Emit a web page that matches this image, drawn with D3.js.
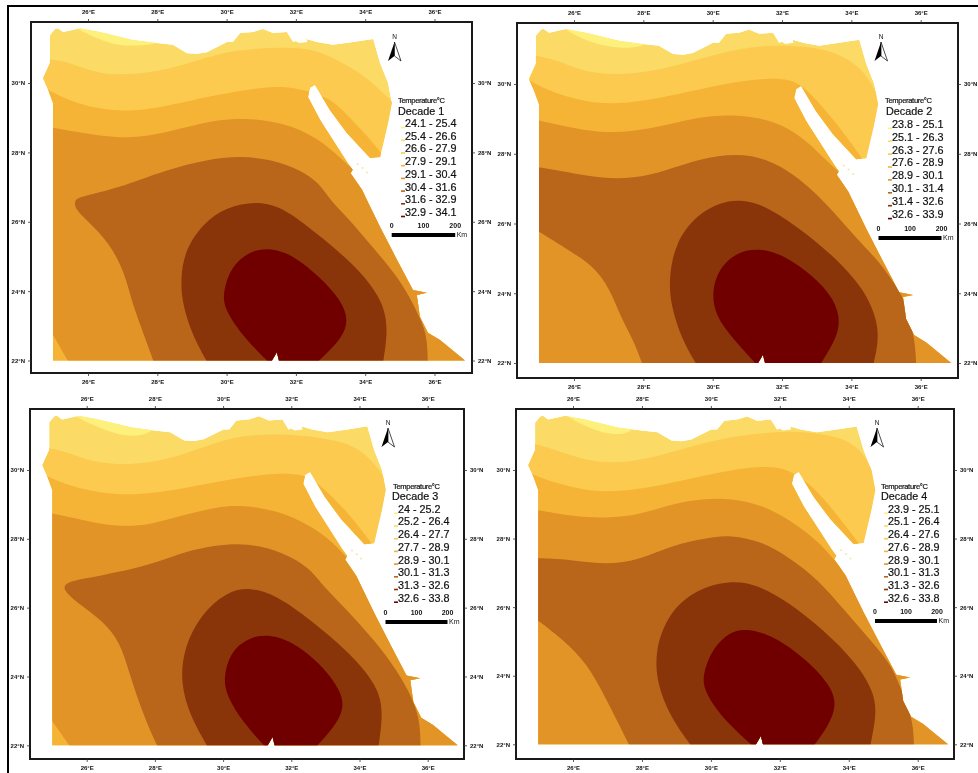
<!DOCTYPE html>
<html>
<head>
<meta charset="utf-8">
<script src="https://cdn.jsdelivr.net/npm/d3@7"></script>
<style>
  html, body { margin: 0; background: #fff; }
  svg { display: block; filter: blur(0.4px); }
  text { font-family: "Liberation Sans", Arial, sans-serif; fill: #111; }
  .tick text { font-size: 6px; font-weight: bold; }
  .legend-text { stroke: #111; stroke-width: 0.2px; }
</style>
</head>
<body>
<div id="chart"></div>
<script>
// Band colours, coolest to hottest
const bandColors = ["#fdf07c", "#fbdb65", "#fbca4e", "#f6b436", "#e39427", "#b9651a", "#8a3509", "#700000"];

// Axis ticks
const lonTicks = [26, 28, 30, 32, 34, 36];
const latTicks = [22, 24, 26, 28, 30];

// Legend ranges per decade
const decade1Ranges = ["24.1 - 25.4", "25.4 - 26.6", "26.6 - 27.9", "27.9 - 29.1", "29.1 - 30.4", "30.4 - 31.6", "31.6 - 32.9", "32.9 - 34.1"];
const decade2Ranges = ["23.8 - 25.1", "25.1 - 26.3", "26.3 - 27.6", "27.6 - 28.9", "28.9 - 30.1", "30.1 - 31.4", "31.4 - 32.6", "32.6 - 33.9"];
const decade3Ranges = ["24 - 25.2", "25.2 - 26.4", "26.4 - 27.7", "27.7 - 28.9", "28.9 - 30.1", "30.1 - 31.3", "31.3 - 32.6", "32.6 - 33.8"];
const decade4Ranges = ["23.9 - 25.1", "25.1 - 26.4", "26.4 - 27.6", "27.6 - 28.9", "28.9 - 30.1", "30.1 - 31.3", "31.3 - 32.6", "32.6 - 33.8"];

// Country outline, [lon, lat]
const outline = [
  [24.90,31.38],[25.05,31.56],[25.13,31.58],[25.28,31.47],[25.77,31.58],[26.35,31.47],[27.30,31.24],[27.99,31.15],
  [28.45,31.10],[28.86,30.86],[29.15,30.84],[29.43,30.89],[30.01,31.18],[30.18,31.18],[30.39,31.44],[30.76,31.47],
  [31.05,31.56],[31.34,31.44],[31.74,31.47],[31.92,31.18],[32.20,31.30],[32.61,31.18],[33.07,31.10],[33.65,31.18],
  [34.23,31.27],[34.43,30.58],[34.66,30.00],[34.77,29.42],[34.66,28.85],[34.43,27.87],[34.14,27.84],[33.47,28.56],
  [32.98,29.22],[32.55,29.94],[32.41,29.86],[32.35,29.60],[32.70,28.93],[33.07,28.36],[33.50,27.69],[33.64,27.5],[33.58,27.4],[33.91,26.92],
  [34.05,26.63],[34.43,25.85],[34.92,24.90],[35.38,24.03],[35.78,23.95],[35.49,23.89],[35.58,23.26],[35.81,22.80],
  [36.16,22.59],[36.45,22.35],[36.88,22.00],[31.51,22.00],[31.45,22.24],[31.31,22.00],[24.99,22.00],[24.99,28.70],
  [24.99,29.42],[24.85,29.80],[24.70,30.14],[24.90,30.58]
];
const deltaLake = [[31.85,31.45],[32.0,31.32],[32.3,31.3],[32.33,31.18],[32.1,31.15],[31.9,31.25]];
const redSeaIslets = [[33.78,27.66],[33.92,27.55],[34.05,27.42]];

// Contour lines per decade, [lon, lat]. First is the palest band, closed to the north,
// the others hold everything to the south of them
const decade1Lines = [
  [[25.55,31.7],[25.62,31.59],[26.34,31.25],[26.91,31.06],[27.59,31.09],[28.07,31.13],[28.3,31.4],[28.3,31.7]],
  [[24.5,30.75],[24.89,30.67],[25.38,30.63],[26.34,30.24],[27.30,30.24],[28.26,30.38],[29.22,30.67],[30.18,30.96],[31.72,31.04],[32.59,30.96],[33.26,30.63],[34.03,30.19],[34.65,29.57],[35.2,29.1]],
  [[24.5,29.95],[24.85,29.81],[25.38,29.52],[26.34,29.23],[27.30,29.18],[28.26,29.33],[29.70,29.66],[31.14,29.90],[31.91,29.88],[32.54,29.71],[33.07,29.52],[33.84,28.70],[34.46,28.03],[34.8,27.4]],
  [[25.5,21.85],[24.9,22.9],[24.7,23.2],[24.6,28.8],[24.99,28.70],[25.86,28.56],[26.82,28.41],[27.78,28.46],[28.74,28.70],[29.70,28.94],[30.66,28.99],[31.63,28.85],[32.59,28.46],[33.45,27.69],[33.9,27.3],[34.5,26.9]],
  [[27.92,21.9],[27.49,23.08],[27.25,23.75],[27.06,24.52],[26.63,25.38],[25.95,26.06],[25.62,26.38],[25.6,26.64],[25.85,26.74],[26.82,26.95],[28.26,27.5],[29.41,27.79],[30.38,27.9],[31.34,27.79],[32.11,27.5],[32.68,27.12],[32.97,26.63],[33.55,26.06],[34.03,25.48],[34.70,24.71],[35.18,24.04],[35.66,23.08],[35.79,22.6],[35.81,21.9]],
  [[29.46,21.92],[29.03,22.69],[28.74,23.56],[28.66,24.33],[28.8,25.19],[29.32,25.96],[29.99,26.42],[30.86,26.6],[31.63,26.42],[32.59,25.67],[33.64,24.81],[34.45,23.85],[34.68,22.98],[34.51,21.92]],
  [[31.24,21.92],[30.47,22.69],[29.95,23.46],[29.88,23.94],[30.13,24.71],[30.66,25.16],[31.29,25.25],[31.95,25.02],[32.68,24.42],[33.3,23.75],[33.52,23.17],[33.35,22.69],[32.9,22.21],[32.59,21.92]]
];
const decade2Lines = [
  [[25.6,31.7],[25.74,31.56],[26.37,31.22],[27.13,31.03],[27.9,31.03],[28.3,31.3],[28.3,31.7]],
  [[24.5,30.9],[25.02,30.79],[25.5,30.69],[26.37,30.31],[27.42,30.26],[28.48,30.40],[29.63,30.72],[30.6,30.98],[31.6,31.12],[32.57,31.08],[33.5,30.95],[34.35,30.45],[34.7,29.75],[35.1,29.2]],
  [[24.5,30.25],[24.92,29.97],[25.6,29.68],[26.56,29.44],[27.52,29.44],[28.67,29.63],[30.12,29.97],[31.37,30.16],[32.13,30.16],[32.57,29.97],[33.0,29.54],[33.58,28.87],[34.3,27.9],[34.45,27.6],[34.8,27.2]],
  [[24.6,21.8],[24.6,29.0],[25.02,28.96],[25.79,28.77],[26.75,28.6],[27.71,28.63],[28.67,28.82],[29.63,29.06],[30.6,29.13],[31.56,29.0],[32.33,28.67],[33.0,28.1],[33.58,27.5],[34.4,26.9]],
  [[28.0,21.9],[27.71,22.67],[27.33,23.35],[27.04,24.12],[26.56,24.79],[25.79,25.27],[25.02,25.75],[24.6,26.0],[24.6,27.65],[25.02,27.62],[25.79,27.47],[26.75,27.3],[27.71,27.28],[28.67,27.52],[29.63,27.86],[30.69,28.02],[31.56,27.86],[32.33,27.42],[33.0,26.85],[33.67,26.13],[34.25,25.46],[34.83,24.88],[35.21,24.31],[35.55,23.83],[35.84,22.67],[35.87,21.9]],
  [[29.54,21.95],[29.11,22.67],[28.8,23.63],[28.73,24.4],[28.92,25.46],[29.54,26.25],[30.21,26.6],[30.79,26.7],[31.56,26.5],[32.52,25.85],[33.48,25.08],[34.38,24.12],[34.78,23.15],[34.76,22.48],[34.63,21.95]],
  [[31.27,21.95],[30.6,22.67],[30.08,23.35],[29.97,24.02],[30.16,24.69],[30.69,25.18],[31.32,25.3],[32.06,25.1],[32.9,24.5],[33.52,23.83],[33.7,23.15],[33.5,22.58],[33.1,21.95]]
];
const decade3Lines = [
  [[25.5,31.7],[25.6,31.58],[26.39,31.21],[27.08,30.97],[27.76,31.0],[28.1,31.3],[28.1,31.7]],
  [[24.5,30.7],[24.92,30.63],[25.41,30.53],[26.29,30.19],[27.37,30.15],[28.35,30.29],[29.32,30.63],[30.3,30.97],[31.28,31.04],[32.26,31.02],[33.33,30.87],[34.11,30.58],[34.7,29.85],[34.85,29.56],[35.2,29.1]],
  [[24.5,30.0],[24.78,29.85],[25.41,29.56],[26.39,29.32],[27.37,29.27],[28.35,29.37],[29.81,29.66],[31.28,29.9],[32.26,29.9],[32.7,29.71],[33.62,28.83],[34.4,27.8],[34.8,27.3]],
  [[25.56,21.9],[24.99,22.7],[24.7,23.1],[24.6,28.8],[25.02,28.74],[25.9,28.54],[26.88,28.35],[27.86,28.4],[28.83,28.69],[29.81,28.93],[30.59,28.98],[31.57,28.83],[32.55,28.4],[33.23,27.91],[33.82,27.23],[34.5,26.7]],
  [[28.1,21.92],[27.76,22.65],[27.47,23.43],[27.22,24.2],[26.98,24.98],[26.49,25.61],[25.71,26.15],[25.3,26.52],[25.36,26.76],[26.39,26.92],[27.86,27.23],[28.83,27.62],[29.81,27.82],[30.69,27.88],[31.77,27.62],[32.55,27.14],[32.84,26.73],[33.62,25.95],[34.41,25.08],[35.09,24.2],[35.58,23.33],[35.78,22.65],[35.79,21.92]],
  [[29.57,21.92],[29.03,22.84],[28.75,23.82],[28.84,24.79],[29.32,25.78],[30.11,26.47],[30.79,26.6],[31.57,26.36],[32.55,25.66],[33.72,24.69],[34.54,23.72],[34.7,22.94],[34.55,21.92]],
  [[31.23,21.97],[30.59,22.65],[30.1,23.43],[30.0,24.01],[30.26,24.79],[30.79,25.13],[31.28,25.23],[31.98,25.05],[32.84,24.4],[33.52,23.52],[33.52,22.94],[33.15,22.41],[32.74,21.97]]
];
const decade4Lines = [
  [[25.65,31.7],[25.76,31.6],[26.29,31.31],[26.87,31.07],[27.45,31.02],[27.84,31.2],[27.9,31.7]],
  [[24.5,30.85],[25.03,30.73],[25.52,30.58],[26.48,30.24],[27.45,30.19],[28.61,30.44],[29.58,30.73],[30.55,30.97],[31.81,31.12],[32.78,31.12],[33.74,30.97],[34.33,30.63],[34.66,30.05],[34.86,29.56],[35.2,29.1]],
  [[24.5,30.0],[24.89,29.85],[25.52,29.61],[26.48,29.37],[27.45,29.37],[28.61,29.56],[29.87,29.85],[31.13,30.1],[32.0,30.1],[32.53,29.85],[33.07,29.42],[33.74,28.59],[34.33,27.82],[34.42,27.6],[34.8,27.2]],
  [[24.6,21.8],[24.6,28.87],[25.03,28.83],[26.0,28.64],[26.97,28.59],[27.94,28.69],[28.9,29.03],[29.87,29.17],[30.55,29.17],[31.52,28.98],[32.29,28.54],[33.16,27.91],[33.84,27.03],[34.4,26.7]],
  [[27.65,21.94],[27.26,22.72],[26.87,23.5],[26.39,24.37],[25.71,25.05],[25.03,25.58],[24.6,25.9],[24.6,27.45],[25.03,27.43],[26.0,27.38],[26.97,27.23],[27.94,27.38],[28.9,27.82],[29.87,28.01],[30.55,28.11],[31.52,27.91],[32.29,27.43],[33.07,26.85],[33.94,25.83],[34.62,25.05],[35.2,24.37],[35.49,23.69],[35.87,22.72],[35.89,21.94]],
  [[29.44,21.94],[28.81,22.82],[28.43,23.79],[28.38,24.76],[28.77,25.83],[29.58,26.53],[30.55,26.78],[31.32,26.68],[32.29,26.12],[33.26,25.34],[34.23,24.37],[34.75,23.5],[34.8,22.82],[34.62,21.94]],
  [[31.23,21.94],[30.36,22.72],[29.83,23.5],[29.74,23.98],[30.02,24.76],[30.55,25.29],[31.03,25.38],[31.83,25.17],[32.78,24.47],[33.5,23.69],[33.65,23.11],[33.4,22.52],[32.97,21.94]]
];

// Where each of the four maps sits on the page
const panels = [
  { name: "Decade 1", ranges: decade1Ranges, lines: decade1Lines,
    frame: { left: 31, right: 472, top: 22, bottom: 373 }, lon26: 88, lon36: 434.5, lat30: 83, lat22: 360.5,
    legend: { titleX: 398, titleY: 100.5, nameX: 398, nameY: 111.5, x: 405, y: 123.3, step: 12.7 },
    bar: { x: 391.7, y: 235, len: 63.5 }, north: { x: 394.5, y: 37 } },
  { name: "Decade 2", ranges: decade2Ranges, lines: decade2Lines,
    frame: { left: 517, right: 958, top: 23, bottom: 378 }, lon26: 574, lon36: 920.7, lat30: 84, lat22: 363,
    legend: { titleX: 885, titleY: 100, nameX: 886, nameY: 111, x: 892, y: 124, step: 12.9 },
    bar: { x: 878.5, y: 238, len: 63 }, north: { x: 881, y: 37 } },
  { name: "Decade 3", ranges: decade3Ranges, lines: decade3Lines,
    frame: { left: 30, right: 464, top: 409, bottom: 759 }, lon26: 86.7, lon36: 427.7, lat30: 470, lat22: 745.3,
    legend: { titleX: 393, titleY: 486, nameX: 392, nameY: 496, x: 398, y: 509, step: 12.7 },
    bar: { x: 385.5, y: 622, len: 62 }, north: { x: 388, y: 423 } },
  { name: "Decade 4", ranges: decade4Ranges, lines: decade4Lines,
    frame: { left: 516, right: 954, top: 409, bottom: 759 }, lon26: 573, lon36: 917.7, lat30: 470, lat22: 744.3,
    legend: { titleX: 881, titleY: 486, nameX: 881, nameY: 496, x: 888, y: 509, step: 12.7 },
    bar: { x: 875, y: 621, len: 62 }, north: { x: 877, y: 423 } }
];

const svg = d3.select("#chart").append("svg")
  .attr("width", 978)
  .attr("height", 773);

svg.append("rect").attr("width", 978).attr("height", 773).attr("fill", "#fff");

// Outer border, only top and left show
svg.append("path")
  .attr("d", "M8,773V6H978")
  .attr("fill", "none")
  .attr("stroke", "#000")
  .attr("stroke-width", 2);

panels.forEach(function(panel, i) { drawPanel(panel, i); });

function drawPanel(panel, index) {
  const x = d3.scaleLinear().domain([26, 36]).range([panel.lon26, panel.lon36]);
  const y = d3.scaleLinear().domain([30, 22]).range([panel.lat30, panel.lat22]);
  const g = svg.append("g");

  const straight = d3.line().x(d => x(d[0])).y(d => y(d[1]));
  const smooth = d3.line().x(d => x(d[0])).y(d => y(d[1])).curve(d3.curveBasis);

  const clipId = "country" + index;
  g.append("clipPath").attr("id", clipId)
    .append("path").attr("d", straight(outline) + "Z");

  const map = g.append("g").attr("clip-path", `url(#${clipId})`);

  // Base of the map is the second band, everything else paints over it
  map.append("path").attr("d", straight(outline) + "Z").attr("fill", bandColors[1]);

  panel.lines.forEach(function(line, k) {
    const color = k === 0 ? bandColors[0] : bandColors[k + 1];
    const closing = k === 0
      ? ""
      : `L${x(37.5)},${y(21.5)}L${x(24.4)},${y(21.5)}`;
    map.append("path")
      .attr("d", smooth(line) + closing + "Z")
      .attr("fill", color);
  });

  map.append("path").attr("d", straight(deltaLake) + "Z").attr("fill", "#fff");

  // Small islets off the Red Sea coast
  g.selectAll(".islet")
    .data(redSeaIslets)
    .enter()
    .append("circle")
    .attr("cx", d => x(d[0]))
    .attr("cy", d => y(d[1]))
    .attr("r", 1)
    .attr("fill", "#f7e3b0");

  // Map frame
  const f = panel.frame;
  g.append("rect")
    .attr("x", f.left).attr("y", f.top)
    .attr("width", f.right - f.left).attr("height", f.bottom - f.top)
    .attr("fill", "none")
    .attr("stroke", "#1a1a1a")
    .attr("stroke-width", 2);

  // Graticule labels on all four sides
  const lonFormat = d => d + "°E";
  const latFormat = d => d + "°N";
  const axes = [
    { axis: d3.axisTop(x).tickValues(lonTicks).tickFormat(lonFormat).tickPadding(5), at: `translate(0,${f.top})` },
    { axis: d3.axisBottom(x).tickValues(lonTicks).tickFormat(lonFormat).tickPadding(4), at: `translate(0,${f.bottom})` },
    { axis: d3.axisLeft(y).tickValues(latTicks).tickFormat(latFormat).tickPadding(3), at: `translate(${f.left},0)` },
    { axis: d3.axisRight(y).tickValues(latTicks).tickFormat(latFormat).tickPadding(3), at: `translate(${f.right},0)` }
  ];
  axes.forEach(function(a) {
    const ax = g.append("g")
      .attr("transform", a.at)
      .call(a.axis.tickSize(3));
    ax.select(".domain").remove();
    ax.selectAll("line").attr("stroke", "#333").attr("stroke-width", 0.8);
  });

  drawLegend(g, panel);
  drawScaleBar(g, panel.bar);
  drawNorthArrow(g, panel.north);
}

function drawLegend(g, panel) {
  const l = panel.legend;
  g.append("text")
    .attr("class", "legend-text")
    .attr("x", l.titleX).attr("y", l.titleY)
    .attr("dy", "0.35em")
    .attr("font-size", 7.6)
    .attr("textLength", 47)
    .text("Temperature°C");
  g.append("text")
    .attr("class", "legend-text")
    .attr("x", l.nameX).attr("y", l.nameY)
    .attr("dy", "0.35em")
    .attr("font-size", 10.8)
    .text(panel.name);

  const item = g.selectAll(".legend-item")
    .data(panel.ranges)
    .enter()
    .append("g")
    .attr("transform", (d, i) => `translate(${l.x},${l.y + i * l.step})`);

  item.append("rect")
    .attr("x", -4).attr("y", 3.5)
    .attr("width", 4).attr("height", 1.6)
    .attr("fill", (d, i) => bandColors[i]);
  item.append("text")
    .attr("class", "legend-text")
    .attr("dy", "0.35em")
    .attr("font-size", 10.8)
    .text(d => d);
}

function drawScaleBar(g, bar) {
  const s = d3.scaleLinear().domain([0, 200]).range([bar.x, bar.x + bar.len]);
  g.append("rect")
    .attr("x", s(0)).attr("y", bar.y - 2)
    .attr("width", s(200) - s(0)).attr("height", 4)
    .attr("fill", "#000");
  g.selectAll(".scale-label")
    .data([0, 100, 200])
    .enter()
    .append("text")
    .attr("x", d => s(d))
    .attr("y", bar.y - 9)
    .attr("dy", "0.35em")
    .attr("text-anchor", "middle")
    .attr("font-size", 7)
    .attr("font-weight", "bold")
    .text(d => d);
  g.append("text")
    .attr("x", s(200) + 1.5).attr("y", bar.y - 0.5)
    .attr("dy", "0.35em")
    .attr("font-size", 7)
    .text("Km");
}

function drawNorthArrow(g, n) {
  g.append("text")
    .attr("x", n.x).attr("y", n.y)
    .attr("dy", "0.35em")
    .attr("text-anchor", "middle")
    .attr("font-size", 6.5)
    .text("N");
  const a = g.append("g").attr("transform", `translate(${n.x},${n.y + 5})`);
  a.append("path").attr("d", "M0,0L-6.5,19L0,14Z").attr("fill", "#000");
  a.append("path").attr("d", "M0,0L6.5,19L0,14Z").attr("fill", "#fff").attr("stroke", "#000").attr("stroke-width", 0.7);
}
</script>
</body>
</html>
